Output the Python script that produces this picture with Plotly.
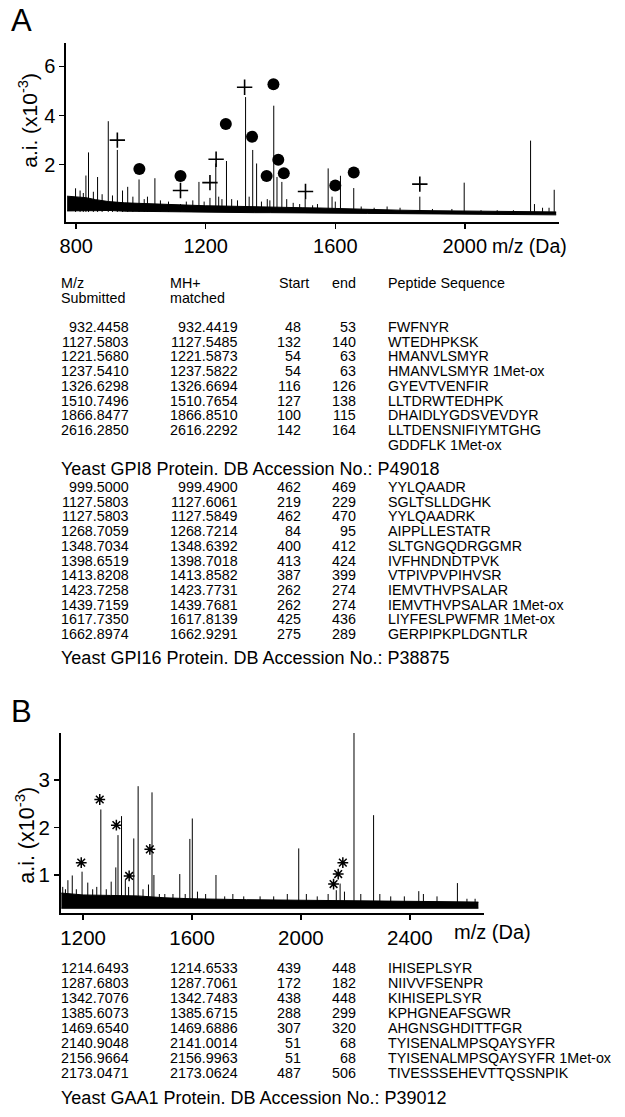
import plotly.graph_objects as go

W, H = 625, 1117
FONT = "Liberation Sans, Arial, Helvetica, sans-serif"

# ---------------- Panel A spectrum data ----------------
A_peak_mz = [798, 812, 822, 830, 838, 853, 866, 880, 899, 912, 927, 943, 959, 975, 994, 1010, 1020, 1043,
             1060, 1085, 1122, 1140, 1160, 1179, 1195, 1213, 1231, 1240, 1250, 1264, 1280, 1298, 1323, 1334,
             1345, 1357, 1372, 1390, 1398, 1410, 1420, 1435, 1450, 1470, 1490, 1507, 1530, 1545, 1578, 1590,
             1600, 1616, 1657, 1680, 1720, 1760, 1800, 1861, 1900, 1960, 1998, 2050, 2100, 2150, 2203, 2215,
             2240, 2260, 2276]
A_peak_ht = [1.04, 0.95, 0.85, 1.56, 2.5, 0.9, 1.5, 0.8, 3.77, 0.75, 2.6, 0.95, 1.1, 0.7, 1.4, 0.6, 0.7, 1.45,
             0.55, 0.5, 0.4, 0.5, 0.55, 1.3, 0.5, 0.65, 2.05, 0.7, 0.6, 2.15, 0.6, 0.55, 4.75, 0.7,
             2.6, 2.05, 0.5, 0.6, 0.55, 4.4, 1.5, 1.3, 0.6, 0.45, 0.4, 0.6, 0.35, 0.4, 1.85, 0.7,
             0.5, 1.55, 1.05, 0.3, 0.25, 0.3, 0.25, 0.7, 0.2, 0.2, 1.27, 0.15, 0.15, 0.15, 2.98, 0.4,
             0.25, 0.25, 0.98]
A_base_mz = [772, 800, 830, 860, 900, 950, 1000, 1050, 1100, 1150, 1200, 1250, 1300, 1350, 1400, 1450, 1500,
             1550, 1600, 1650, 1700, 1800, 1900, 2000, 2100, 2200, 2282]
A_base_lo = [0.12, 0.11, 0.13, 0.13, 0.14, 0.11, 0.10, 0.09, 0.08, 0.07, 0.07, 0.06, 0.06, 0.05, 0.05, 0.05, 0.04,
             0.04, 0.03, 0.03, 0.02, 0.01, 0.0, -0.01, -0.02, -0.03, -0.04]
A_base_hi = [0.72, 0.70, 0.66, 0.58, 0.50, 0.45, 0.42, 0.40, 0.37, 0.35, 0.33, 0.32, 0.30, 0.29, 0.28, 0.27, 0.25,
             0.24, 0.22, 0.20, 0.17, 0.15, 0.13, 0.12, 0.10, 0.09, 0.08]
A_circle_mz = [995, 1122, 1262, 1343, 1409, 1424, 1441, 1388, 1600, 1657]
A_circle_y = [1.83, 1.54, 3.66, 3.14, 5.27, 2.20, 1.65, 1.54, 1.15, 1.68]
A_plus_mz = [927, 1122, 1232, 1213, 1320, 1508, 1861]
A_plus_y = [3.0, 0.95, 2.22, 1.27, 5.15, 0.91, 1.21]
A_xticks = [800, 1200, 1600, 2000]
A_yticks = [2, 4, 6]

# ---------------- Panel B spectrum data ----------------
B_peak_mz = [1125, 1135, 1144, 1160, 1175, 1196, 1217, 1235, 1250, 1265, 1285, 1303, 1320, 1328, 1341, 1355,
             1367, 1386, 1402, 1420, 1440, 1453, 1460, 1480, 1500, 1530, 1555, 1575, 1592, 1601, 1620, 1650,
             1688, 1720, 1750, 1790, 1850, 1900, 1950, 1992, 2020, 2060, 2100, 2130, 2144, 2160, 2195, 2220,
             2267, 2290, 2330, 2380, 2433, 2450, 2500, 2575, 2610, 2640]
B_peak_ht = [0.75, 0.7, 0.89, 0.99, 0.7, 1.07, 0.84, 0.7, 0.75, 2.38, 0.7, 0.86, 1.16, 1.84, 2.24, 0.9,
             0.75, 1.77, 2.87, 0.7, 0.8, 2.74, 1.0, 0.6, 0.6, 0.6, 1.02, 0.6, 1.76, 2.19, 0.65, 0.6,
             1.0, 0.55, 0.6, 0.55, 0.55, 0.55, 0.6, 1.56, 0.6, 0.55, 0.6, 0.68, 0.82, 0.65, 4.3, 0.6,
             2.26, 0.6, 0.55, 0.55, 0.66, 0.6, 0.55, 0.83, 0.5, 0.5]
B_base_mz = [1120, 1200, 1300, 1400, 1500, 1600, 1800, 2000, 2200, 2400, 2500, 2652]
B_base_lo = [0.30, 0.30, 0.30, 0.30, 0.30, 0.30, 0.29, 0.29, 0.29, 0.30, 0.30, 0.30]
B_base_hi = [0.62, 0.58, 0.57, 0.56, 0.52, 0.50, 0.48, 0.47, 0.47, 0.45, 0.44, 0.43]
B_star_mz = [1193, 1261, 1322, 1369, 1445, 2120, 2137, 2154]
B_star_y = [1.26, 2.59, 2.05, 0.98, 1.54, 0.81, 1.02, 1.26]
B_xticks = [1200, 1600, 2000, 2400]
B_yticks = [1, 2, 3]

# ---------------- Tables ----------------
header_1 = ["M/z", "MH+", "Start", "end", "Peptide Sequence"]
header_2 = ["Submitted", "matched", "", "", ""]

gpi8_submitted = ["932.4458", "1127.5803", "1221.5680", "1237.5410", "1326.6298", "1510.7496", "1866.8477", "2616.2850"]
gpi8_matched = ["932.4419", "1127.5485", "1221.5873", "1237.5822", "1326.6694", "1510.7654", "1866.8510", "2616.2292"]
gpi8_start = ["48", "132", "54", "54", "116", "127", "100", "142"]
gpi8_end = ["53", "140", "63", "63", "126", "138", "115", "164"]
gpi8_seq = ["FWFNYR", "WTEDHPKSK", "HMANVLSMYR", "HMANVLSMYR 1Met-ox", "GYEVTVENFIR", "LLTDRWTEDHPK",
            "DHAIDLYGDSVEVDYR", "LLTDENSNIFIYMTGHG"]
gpi8_seq_cont = "GDDFLK 1Met-ox"
gpi8_label = "Yeast GPI8 Protein. DB Accession No.: P49018"

gpi16_submitted = ["999.5000", "1127.5803", "1127.5803", "1268.7059", "1348.7034", "1398.6519", "1413.8208",
                   "1423.7258", "1439.7159", "1617.7350", "1662.8974"]
gpi16_matched = ["999.4900", "1127.6061", "1127.5849", "1268.7214", "1348.6392", "1398.7018", "1413.8582",
                 "1423.7731", "1439.7681", "1617.8139", "1662.9291"]
gpi16_start = ["462", "219", "462", "84", "400", "413", "387", "262", "262", "425", "275"]
gpi16_end = ["469", "229", "470", "95", "412", "424", "399", "274", "274", "436", "289"]
gpi16_seq = ["YYLQAADR", "SGLTSLLDGHK", "YYLQAADRK", "AIPPLLESTATR", "SLTGNGQDRGGMR", "IVFHNDNDTPVK",
             "VTPIVPVPIHVSR", "IEMVTHVPSALAR", "IEMVTHVPSALAR 1Met-ox", "LIYFESLPWFMR 1Met-ox", "GERPIPKPLDGNTLR"]
gpi16_label = "Yeast GPI16 Protein. DB Accession No.: P38875"

gaa1_submitted = ["1214.6493", "1287.6803", "1342.7076", "1385.6073", "1469.6540", "2140.9048", "2156.9664", "2173.0471"]
gaa1_matched = ["1214.6533", "1287.7061", "1342.7483", "1385.6715", "1469.6886", "2141.0014", "2156.9963", "2173.0624"]
gaa1_start = ["439", "172", "438", "288", "307", "51", "51", "487"]
gaa1_end = ["448", "182", "448", "299", "320", "68", "68", "506"]
gaa1_seq = ["IHISEPLSYR", "NIIVVFSENPR", "KIHISEPLSYR", "KPHGNEAFSGWR", "AHGNSGHDITTFGR", "TYISENALMPSQAYSYFR",
            "TYISENALMPSQAYSYFR 1Met-ox", "TIVESSSEHEVTTQSSNPIK"]
gaa1_label = "Yeast GAA1 Protein. DB Accession No.: P39012"


def px(x):
    return x / W


def py(y):
    return 1 - y / H


def sticks(mz, ht, base):
    xs, ys = [], []
    for m, h in zip(mz, ht):
        xs += [m, m, None]
        ys += [base, h, None]
    return xs, ys


fig = go.Figure()

# ---- Panel A traces ----
fig.add_trace(go.Scatter(x=A_base_mz, y=A_base_lo, mode="lines", line=dict(color="black", width=1),
                         xaxis="x", yaxis="y", hoverinfo="skip"))
fig.add_trace(go.Scatter(x=A_base_mz, y=A_base_hi, mode="lines", line=dict(color="black", width=1),
                         fill="tonexty", fillcolor="black", xaxis="x", yaxis="y", hoverinfo="skip"))
sx, sy = sticks(A_peak_mz, A_peak_ht, 0.08)
fig.add_trace(go.Scatter(x=sx, y=sy, mode="lines", line=dict(color="black", width=1), xaxis="x", yaxis="y"))
fig.add_trace(go.Scatter(x=A_circle_mz, y=A_circle_y, mode="markers",
                         marker=dict(symbol="circle", size=12, color="black"), xaxis="x", yaxis="y"))
fig.add_trace(go.Scatter(x=A_plus_mz, y=A_plus_y, mode="markers",
                         marker=dict(symbol="cross-thin-open", size=11, color="black",
                                     line=dict(color="black", width=1.6)),
                         xaxis="x", yaxis="y"))

# ---- Panel B traces ----
fig.add_trace(go.Scatter(x=B_base_mz, y=B_base_lo, mode="lines", line=dict(color="black", width=1),
                         xaxis="x2", yaxis="y2", hoverinfo="skip"))
fig.add_trace(go.Scatter(x=B_base_mz, y=B_base_hi, mode="lines", line=dict(color="black", width=1),
                         fill="tonexty", fillcolor="black", xaxis="x2", yaxis="y2", hoverinfo="skip"))
sx, sy = sticks(B_peak_mz, B_peak_ht, 0.32)
fig.add_trace(go.Scatter(x=sx, y=sy, mode="lines", line=dict(color="black", width=1), xaxis="x2", yaxis="y2"))
fig.add_trace(go.Scatter(x=B_star_mz, y=B_star_y, mode="markers",
                         marker=dict(symbol="asterisk-open", size=9, color="black",
                                     line=dict(color="black", width=1.5)),
                         xaxis="x2", yaxis="y2"))

axis_common = dict(showline=True, linecolor="black", linewidth=2, ticks="outside", ticklen=5, tickwidth=1.5,
                   tickcolor="black", showgrid=False, zeroline=False, fixedrange=True)

fig.update_layout(
    width=W, height=H, margin=dict(l=0, r=0, t=0, b=0), showlegend=False,
    plot_bgcolor="white", paper_bgcolor="white", font=dict(family=FONT, color="black"),
    xaxis=dict(domain=[px(60), px(558)], range=[769.5, 2290], tickvals=A_xticks, anchor="y",
               tickfont=dict(size=20), **axis_common),
    yaxis=dict(domain=[py(222), py(43)], range=[-0.33, 6.95], tickvals=A_yticks, anchor="x",
               tickfont=dict(size=20), **axis_common),
    xaxis2=dict(domain=[px(54.6), px(482.5)], range=[1118.6, 2673], tickvals=B_xticks, anchor="y2",
                tickfont=dict(size=20.5), **axis_common),
    yaxis2=dict(domain=[py(913), py(733)], range=[0.2, 3.99], tickvals=B_yticks, anchor="x2",
                tickfont=dict(size=20.5), **axis_common),
)

ann = []
TS = 14.3  # table font size


def txt(x, y, s, size=TS, xanchor="left", angle=0):
    ann.append(dict(x=px(x), y=py(y), xref="paper", yref="paper", text=s, showarrow=False,
                    xanchor=xanchor, yanchor="middle", textangle=angle, borderpad=0,
                    font=dict(size=size, family=FONT, color="black")))


# panel letters, axis titles
txt(3, 20, "A", size=31)
txt(3, 711, "B", size=31)
txt(21, 120, "a.i. (x10<sup>-3</sup>)", size=21, xanchor="center", angle=-90)
txt(18, 835, "a.i. (x10<sup>-3</sup>)", size=21.5, xanchor="center", angle=-90)
txt(489, 246, "m/z (Da)", size=19.5)
txt(451, 932, "m/z (Da)", size=20)

COL_R = [124, 234.5, 298, 353.5]
SEQ_X = 384
HEAD_X = [54, 164, 274, 328, 384]

for hx, h1, h2 in zip(HEAD_X, header_1, header_2):
    txt(hx, 283, h1)
    if h2:
        txt(hx, 298, h2)


def table(y0, dy, cols, seq):
    for i in range(len(seq)):
        y = y0 + dy * i
        for cx, col in zip(COL_R, cols):
            txt(cx, y, col[i], xanchor="right")
        txt(SEQ_X, y, seq[i])


table(327, 14.7, [gpi8_submitted, gpi8_matched, gpi8_start, gpi8_end], gpi8_seq)
txt(SEQ_X, 327 + 14.7 * 8, gpi8_seq_cont)
txt(54, 469, gpi8_label, size=18)
table(487, 14.7, [gpi16_submitted, gpi16_matched, gpi16_start, gpi16_end], gpi16_seq)
txt(54, 658, gpi16_label, size=18)
table(968, 15, [gaa1_submitted, gaa1_matched, gaa1_start, gaa1_end], gaa1_seq)
txt(54, 1098, gaa1_label, size=18)

fig.update_layout(annotations=ann)
fig.write_html("out.html", config={"displayModeBar": False, "staticPlot": True},
               post_script="document.body.style.margin='0px';document.body.style.overflow='hidden';")
